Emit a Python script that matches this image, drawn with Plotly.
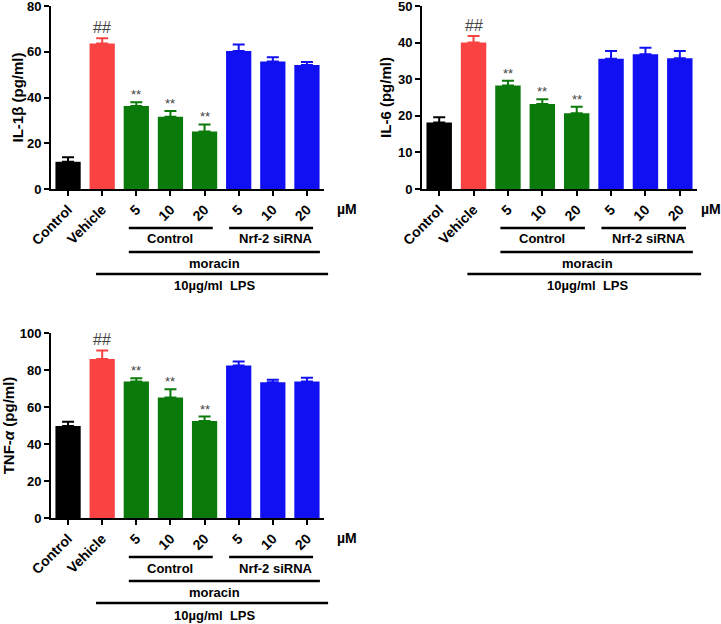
import plotly.graph_objects as go

W, H = 721, 624

tick_labels = ["Control", "Vehicle", "5", "10", "20", "5", "10", "20"]

il1b_vals = [11.9, 63.6, 36.3, 31.6, 25.1, 60.3, 55.7, 54.2]
il1b_err = [2.0, 2.3, 1.6, 2.5, 3.1, 2.9, 1.9, 1.3]

il6_vals = [18.2, 40.0, 28.3, 23.2, 20.7, 35.6, 36.8, 35.7]
il6_err = [1.4, 1.8, 1.3, 1.3, 1.8, 2.1, 1.8, 2.0]

tnf_vals = [49.7, 85.9, 73.8, 65.1, 52.4, 82.4, 73.4, 73.8]
tnf_err = [2.3, 4.7, 1.8, 4.5, 2.4, 2.2, 1.3, 2.0]

sig_marks = ["", "##", "**", "**", "**", "", "", ""]

groups = [([0], "#000000"), ([1], "#F94343"), ([2, 3, 4], "#0A7A0A"), ([5, 6, 7], "#1010F2")]

# panels: (values, errors, ymax, dtick, ytitle, pixel box [x0,x1,y0,y1], title standoff)
panels = [
    (il1b_vals, il1b_err, 80, 20, "IL-1β (pg/ml)", (51, 324, 6, 189), 0),
    (il6_vals, il6_err, 50, 10, "IL-6 (pg/ml)", (422, 697, 6, 189), 3),
    (tnf_vals, tnf_err, 100, 20, "TNF-<i>α</i> (pg/ml)", (51, 324, 333, 518), 3),
]

fig = go.Figure()
FONT = "Liberation Sans, Arial, sans-serif"
shapes = []
annotations = []

for p, (vals, errs, ymax, dtick, ytitle, box, standoff) in enumerate(panels):
    x0, x1, y0, y1 = box
    xa = "x" if p == 0 else f"x{p+1}"
    ya = "y" if p == 0 else f"y{p+1}"
    for idxs, col in groups:
        fig.add_trace(go.Bar(
            x=idxs, y=[vals[i] for i in idxs],
            marker=dict(color=col, line=dict(width=0)),
            width=0.74,
            error_y=dict(type="data", array=[errs[i] for i in idxs],
                         arrayminus=[0] * len(idxs), symmetric=False,
                         color=col, thickness=2, width=6),
            xaxis=xa, yaxis=ya, showlegend=False, hoverinfo="skip",
        ))
    dom_x = [x0 / W, x1 / W]
    dom_y = [1 - y1 / H, 1 - y0 / H]
    axis_key = "xaxis" if p == 0 else f"xaxis{p+1}"
    yaxis_key = "yaxis" if p == 0 else f"yaxis{p+1}"
    fig.layout[axis_key] = dict(
        domain=dom_x, range=[-0.5, 7.5], anchor=ya, automargin=False,
        tickmode="array", tickvals=list(range(8)), ticktext=tick_labels,
        tickangle=-45, ticks="outside", ticklen=5, tickwidth=2, tickcolor="black",
        showline=True, linecolor="black", linewidth=2, showgrid=False, zeroline=False,
        tickfont=dict(family=FONT, size=14, color="black", weight="bold"),
        fixedrange=True,
    )
    fig.layout[yaxis_key] = dict(
        domain=dom_y, range=[0, ymax], anchor=xa, dtick=dtick, automargin=False,
        ticks="outside", ticklen=5, tickwidth=2, tickcolor="black",
        showline=True, linecolor="black", linewidth=2, showgrid=False, zeroline=False,
        ticklabeloverflow="allow",
        tickfont=dict(family=FONT, size=13, color="black", weight="bold"),
        title=dict(text=ytitle, font=dict(family=FONT, size=15, color="black", weight="bold"),
                   standoff=standoff),
        fixedrange=True,
    )
    # significance marks
    for i, s in enumerate(sig_marks):
        if s:
            annotations.append(dict(
                x=i, y=vals[i] + errs[i], xref=xa, yref=ya, text=s, showarrow=False,
                xanchor="center", yanchor="bottom", yshift=-2 if s == "**" else 0,
                font=dict(family=FONT, size=13 if s == "**" else 16, color="#444444"),
            ))
    # group bars below axis
    step = (x1 - x0) / 8.0

    def cx(v):
        return (x0 + (v + 0.5) * step) / W

    def py(pix):
        return 1 - pix / H

    base = y1  # pixel y of x axis
    mu_x = min(x1 + 11, W - 22)
    annotations.append(dict(x=mu_x / W, y=py(base + 20), xref="paper", yref="paper",
                            text="µM", showarrow=False, xanchor="left", yanchor="middle",
                            font=dict(family=FONT, size=14, color="black", weight="bold")))
    rows = [
        (1.78, 4.24, 39, "Control", 3.0, 50),
        (4.72, 7.18, 39, "Nrf-2 siRNA", 6.1, 50),
        (1.78, 7.38, 63, "moracin", 4.3, 74),
        (0.82, 7.62, 85, "10µg/ml  LPS", 4.32, 97),
    ]
    for a, b, ly, txt, tx, ty in rows:
        shapes.append(dict(type="line", xref="paper", yref="paper",
                           x0=cx(a), x1=cx(b), y0=py(base + ly), y1=py(base + ly),
                           line=dict(color="black", width=2.5)))
        annotations.append(dict(x=cx(tx), y=py(base + ty), xref="paper", yref="paper",
                                text=txt, showarrow=False, xanchor="center", yanchor="middle",
                                font=dict(family=FONT, size=13, color="black", weight="bold")))

fig.update_layout(
    width=W, height=H, margin=dict(l=0, r=0, t=0, b=0),
    paper_bgcolor="white", plot_bgcolor="white",
    barmode="overlay", shapes=shapes, annotations=annotations,
    showlegend=False, hovermode=False,
)

fig.write_html("out.html", config={"displayModeBar": False},
               post_script="document.body.style.margin='0';")
